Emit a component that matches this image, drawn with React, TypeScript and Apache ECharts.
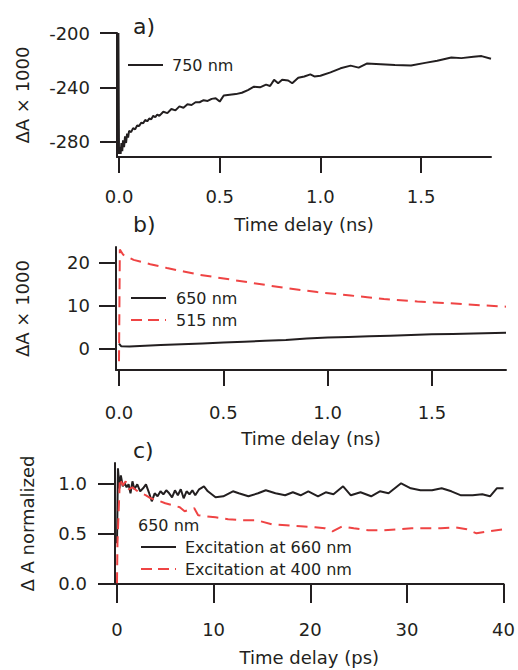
import React, { useEffect, useRef } from "react";
import * as echarts from "echarts";

const FONT = "DejaVu Sans";
const INK = "#231f20";
const RED = "#ef4444";

// ---------- Panel a: 750 nm ----------
const tA750 = [
  -0.003, 0.0, 0.004, 0.008, 0.012, 0.016, 0.02, 0.025, 0.03, 0.035, 0.04, 0.045, 0.05,
  0.06, 0.07, 0.08, 0.09, 0.1, 0.11, 0.12, 0.13, 0.14, 0.15, 0.16, 0.17, 0.18, 0.19, 0.2,
  0.22, 0.24, 0.26, 0.28, 0.3, 0.32, 0.34, 0.36, 0.38, 0.4, 0.42, 0.44, 0.46, 0.48, 0.5,
  0.52, 0.55, 0.58, 0.61, 0.64, 0.67, 0.7, 0.73, 0.75, 0.77, 0.79, 0.81, 0.84, 0.86, 0.89,
  0.92, 0.95, 0.97, 1.0, 1.05, 1.1, 1.15, 1.19, 1.23, 1.3, 1.37, 1.45, 1.52, 1.58, 1.65,
  1.7, 1.76, 1.8, 1.847,
];
const vA750 = [
  -200, -289, -284, -289, -281, -287, -279, -284, -276, -281, -274, -277, -272,
  -273, -270, -271, -268, -268.5, -266, -266.5, -264, -265, -263, -263.5, -261, -262, -260, -261,
  -258, -259, -256, -257, -254, -255, -252.5, -253, -251, -251, -249.5, -250, -248.5, -248, -250.5,
  -246, -245.5, -245, -244, -242, -239.5, -240, -238, -239, -234.5, -237, -234.5, -235, -237, -233,
  -232, -230.5, -232, -231.5, -229, -226, -224, -225.5, -222.5, -223, -223.5, -224, -222, -220.5, -218,
  -218.5, -217.5, -217, -219,
];
const xTicksNs = [0, 0.5, 1.0, 1.5];
const yTicksA = [-280, -240, -200];

// ---------- Panel b: 650 nm & 515 nm ----------
const tB650 = [0, 0.01, 0.05, 0.1, 0.2, 0.3, 0.4, 0.5, 0.6, 0.7, 0.8, 0.9, 1.0, 1.1, 1.2, 1.3, 1.4, 1.5, 1.6, 1.7, 1.855];
const vB650 = [1.1, 0.5, 0.45, 0.55, 0.75, 0.95, 1.15, 1.35, 1.55, 1.75, 1.95, 2.3, 2.5, 2.65, 2.8, 2.95, 3.1, 3.25, 3.35, 3.45, 3.62];
const tB515 = [0, 0.004, 0.02, 0.07, 0.15, 0.23, 0.31, 0.39, 0.47, 0.55, 0.63, 0.71, 0.79, 0.87, 0.95, 1.03, 1.11, 1.19, 1.27, 1.35, 1.43, 1.51, 1.59, 1.67, 1.75, 1.855];
const vB515 = [-3, 23, 21.8, 20.6, 19.6, 18.7, 17.9, 17.1, 16.5, 15.9, 15.3, 14.7, 14.1, 13.6, 13.1, 12.7, 12.3, 11.9, 11.5, 11.2, 10.9, 10.7, 10.5, 10.2, 10.0, 9.7];
const yTicksB = [0, 10, 20];

// ---------- Panel c: 650 nm, excitation 660 / 400 nm ----------
const tC660 = [
  0, 0.1, 0.25, 0.4, 0.6, 0.8, 1.0, 1.2, 1.4, 1.6, 1.8, 2.1, 2.4, 2.7, 3.0, 3.3, 3.6, 3.9,
  4.2, 4.5, 4.8, 5.1, 5.4, 5.7, 6.0, 6.3, 6.6, 6.9, 7.2, 7.5, 7.8, 8.1, 8.5, 9.0, 9.4, 10.2,
  11.0, 12.0, 12.6, 13.6, 14.6, 15.4, 16.4, 17.4, 18.2, 19.0, 19.8, 20.8, 21.6, 22.4, 23.4,
  24.2, 25.2, 26.3, 27.2, 28.1, 29.4, 30.4, 31.4, 32.6, 33.6, 34.6, 35.6, 36.8, 37.8, 38.6,
  39.3, 40,
];
const vC660 = [
  0.4, 1.15, 0.95, 1.08, 0.97, 1.0, 0.96, 0.99, 0.9, 1.02, 0.94, 0.99, 0.92, 0.95, 0.99, 0.91, 0.82, 0.9,
  0.87, 0.92, 0.89, 0.93, 0.9, 0.86, 0.93, 0.88, 0.94, 0.85, 0.92, 0.89, 0.93, 0.88, 0.94, 0.97, 0.92, 0.86,
  0.87, 0.92, 0.9, 0.87, 0.9, 0.93, 0.9, 0.88, 0.91, 0.88, 0.92, 0.87, 0.91, 0.89, 0.97,
  0.88, 0.91, 0.87, 0.92, 0.9, 1.0, 0.95, 0.93, 0.93, 0.95, 0.92, 0.88, 0.88, 0.89, 0.87,
  0.95, 0.95,
];
const tC400 = [
  0, 0.05, 0.3, 0.6, 0.9, 1.2, 1.6, 2.0, 2.5, 3.0, 3.5, 4.2, 5.0, 5.8, 6.5, 7.0, 7.6, 8.0, 8.4,
  9.2, 10.2, 11.5, 13.0, 14.5, 16.0, 17.5, 19.0, 20.5, 21.5, 22.3, 23.3, 24.5, 26.0, 27.5, 29.0,
  30.5, 32.0, 33.5, 35.0, 36.2, 37.2, 38.5, 40,
];
const vC400 = [
  0.0, 0.4, 1.05, 0.98, 1.02, 0.94, 0.96, 0.93, 0.9, 0.88, 0.85, 0.83, 0.8, 0.78, 0.76, 0.72, 0.74, 0.75, 0.68,
  0.67, 0.66, 0.64, 0.63, 0.63, 0.59, 0.58, 0.57, 0.56, 0.55, 0.52, 0.57, 0.55, 0.53, 0.53, 0.54,
  0.55, 0.55, 0.55, 0.56, 0.54, 0.5, 0.52, 0.54,
];
const xTicksPs = [0, 10, 20, 30, 40];
const yTicksC = [0, 0.5, 1.0];

const pairs = (t: number[], v: number[]) => t.map((x, i) => [x, v[i]]);

const txt = (size: number) => ({ fontFamily: FONT, fontSize: size, color: INK });

function xAxis(gridIndex: number, min: number, max: number, ticks: number[], fmt: (v: number) => string, labelMargin: number, name: string, nameGap: number, tickLen: number) {
  return {
    type: "value",
    gridIndex,
    min,
    max,
    name,
    nameLocation: "middle",
    nameGap,
    nameTextStyle: { ...txt(18), verticalAlign: "middle" },
    axisLine: { show: true, onZero: false, lineStyle: { color: INK, width: 2 } },
    axisTick: { show: true, inside: false, length: tickLen, customValues: ticks, lineStyle: { color: INK, width: 2 } },
    axisLabel: { customValues: ticks, formatter: fmt, margin: labelMargin, ...txt(18), verticalAlign: "middle" },
    splitLine: { show: false },
  };
}

function yAxis(gridIndex: number, min: number, max: number, ticks: number[], fmt: (v: number) => string, labelMargin: number, name: string, nameGap: number) {
  return {
    type: "value",
    gridIndex,
    min,
    max,
    name,
    nameLocation: "middle",
    nameGap,
    nameRotate: 90,
    nameTextStyle: { ...txt(18), verticalAlign: "middle", align: "center" },
    axisLine: { show: true, onZero: false, lineStyle: { color: INK, width: 2 } },
    axisTick: { show: true, inside: false, length: 17, customValues: ticks, lineStyle: { color: INK, width: 2 } },
    axisLabel: { customValues: ticks, formatter: fmt, margin: labelMargin, ...txt(18), align: "right", verticalAlign: "middle" },
    splitLine: { show: false },
  };
}

const legendLine = (x: number, y: number, dashed: boolean) => ({
  type: "line",
  shape: { x1: x, y1: y, x2: x + 35, y2: y },
  style: dashed
    ? { stroke: RED, lineWidth: 2, lineDash: [11, 6] }
    : { stroke: INK, lineWidth: 2 },
});
const legendText = (x: number, y: number, text: string, size = 16) => ({
  type: "text",
  x,
  y,
  style: { text, fontFamily: FONT, fontSize: size, fill: INK, align: "left", verticalAlign: "middle" },
});

const option = {
  animation: false,
  backgroundColor: "#ffffff",
  grid: [
    { left: 117, top: 33, width: 374, height: 124 },
    { left: 116, top: 247, width: 390, height: 123 },
    { left: 115, top: 463, width: 392, height: 121 },
  ],
  xAxis: [
    xAxis(0, -0.01, 1.847, xTicksNs, (v: number) => v.toFixed(1), 39, "Time delay (ns)", 67, 16),
    xAxis(1, -0.0144, 1.855, xTicksNs, (v: number) => v.toFixed(1), 42, "Time delay (ns)", 68, 16),
    xAxis(2, -0.205, 40, xTicksPs, (v: number) => String(v), 45, "Time delay (ps)", 73, 19),
  ],
  yAxis: [
    yAxis(0, -291.3, -200, yTicksA, (v: number) => String(v).replace("\u2212", "-"), 27, "\u0394A \u00d7 1000", 94.5),
    yAxis(1, -5.05, 23.6, yTicksB, (v: number) => String(v), 26, "\u0394A \u00d7 1000", 94),
    yAxis(2, -0.007, 1.203, yTicksC, (v: number) => v.toFixed(1), 28, "\u0394 A normalized", 88),
  ],
  series: [
    {
      name: "750 nm",
      type: "line",
      xAxisIndex: 0,
      yAxisIndex: 0,
      data: pairs(tA750, vA750),
      showSymbol: false,
      symbol: "none",
      lineStyle: { color: INK, width: 2 },
    },
    {
      name: "650 nm",
      type: "line",
      xAxisIndex: 1,
      yAxisIndex: 1,
      data: pairs(tB650, vB650),
      showSymbol: false,
      symbol: "none",
      lineStyle: { color: INK, width: 2 },
    },
    {
      name: "515 nm",
      type: "line",
      xAxisIndex: 1,
      yAxisIndex: 1,
      data: pairs(tB515, vB515),
      showSymbol: false,
      symbol: "none",
      lineStyle: { color: RED, width: 2, type: [11, 7] },
    },
    {
      name: "Excitation at 660 nm",
      type: "line",
      xAxisIndex: 2,
      yAxisIndex: 2,
      data: pairs(tC660, vC660),
      showSymbol: false,
      symbol: "none",
      lineStyle: { color: INK, width: 2 },
    },
    {
      name: "Excitation at 400 nm",
      type: "line",
      xAxisIndex: 2,
      yAxisIndex: 2,
      data: pairs(tC400, vC400),
      showSymbol: false,
      symbol: "none",
      lineStyle: { color: RED, width: 2, type: [11, 7] },
    },
  ],
  graphic: [
    legendText(133, 26, "a)", 22),
    legendText(133, 224, "b)", 22),
    legendText(133, 450, "c)", 22),
    legendLine(128, 65, false),
    legendText(172, 65, "750 nm"),
    legendLine(131, 298, false),
    legendText(176, 298, "650 nm"),
    legendLine(131, 320, true),
    legendText(176, 320, "515 nm"),
    legendText(138, 525, "650 nm"),
    legendLine(141, 547, false),
    legendText(185, 547, "Excitation at 660 nm"),
    legendLine(141, 569, true),
    legendText(185, 569, "Excitation at 400 nm"),
  ],
};

export default function App() {
  const ref = useRef<HTMLDivElement>(null);
  useEffect(() => {
    if (!ref.current) return;
    const chart = echarts.init(ref.current, null, { renderer: "svg" });
    chart.setOption(option as any);
    return () => chart.dispose();
  }, []);
  return (
    <div
      ref={ref}
      style={{ position: "absolute", left: 0, top: 0, width: 518, height: 670 }}
    />
  );
}
